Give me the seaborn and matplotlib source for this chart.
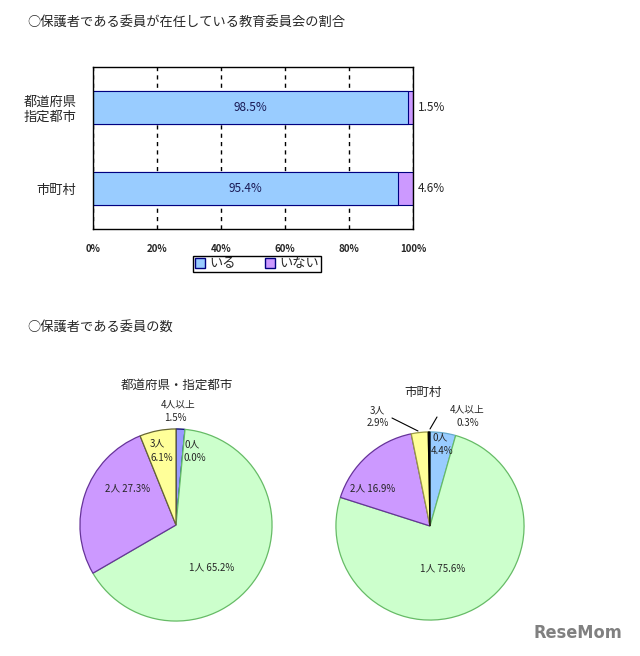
import matplotlib
matplotlib.use("Agg")
import matplotlib.pyplot as plt
import matplotlib.patches as mpatches
from matplotlib.lines import Line2D
import seaborn as sns
import pandas as pd

# bar chart: share of boards with a guardian member
regions = ["都道府県\n指定都市", "市町村"]
present = [98.5, 95.4]
absent = [1.5, 4.6]
legend_labels = ["いる", "いない"]

# pie charts: number of guardian members
member_labels = ["0人", "1人", "2人", "3人", "4人以上"]
pref_share = [0.0, 65.2, 27.3, 6.1, 1.5]
city_share = [4.4, 75.6, 16.9, 2.9, 0.3]

BLUE = "#99CCFF"
PURPLE = "#CC99FF"
GREEN = "#CCFFCC"
YELLOW = "#FFFF99"
NAVY = "#000080"

sns.set_style("white")
plt.rcParams["font.family"] = ["Noto Sans CJK JP", "DejaVu Sans"]

W, H = 640, 656
fig = plt.figure(figsize=(W / 100, H / 100), dpi=100)


def fx(px):
    return px / W


def fy(py):
    return 1 - py / H


# ---- titles
fig.text(fx(27), fy(22), "○保護者である委員が在任している教育委員会の割合",
         ha="left", va="center", fontsize=9.5)
fig.text(fx(27), fy(327), "○保護者である委員の数",
         ha="left", va="center", fontsize=9.5)

# ---- stacked bar
df = pd.DataFrame({"region": regions, "present": present, "absent": absent})
df["total"] = df["present"] + df["absent"]

ax = fig.add_axes([fx(93), fy(229), 320 / W, 162 / H])
sns.barplot(data=df, y="region", x="total", color=PURPLE, saturation=1,
            edgecolor=NAVY, linewidth=0.8, width=0.4, ax=ax)
sns.barplot(data=df, y="region", x="present", color=BLUE, saturation=1,
            edgecolor=NAVY, linewidth=0.8, width=0.4, ax=ax)
ax.set_xlim(0, 100)
ax.set_ylim(1.5, -0.5)
ax.set_xlabel("")
ax.set_ylabel("")
ax.set_xticks(range(0, 101, 20))
ax.set_xticklabels([f"{v}%" for v in range(0, 101, 20)], fontsize=7, weight="bold")
ax.tick_params(axis="x", length=0, pad=11)
ax.tick_params(axis="y", length=0, pad=12, labelsize=9.5)
ax.set_yticks([0.5], minor=True)
ax.tick_params(axis="y", which="minor", length=4, direction="in", color="black")
ax.xaxis.grid(True, color="black", linestyle=(0, (3, 3)), linewidth=1)
ax.set_axisbelow(True)
for s in ax.spines.values():
    s.set_color("black")
    s.set_linewidth(1)

for i, (p, a) in enumerate(zip(present, absent)):
    ax.text(p / 2, i, f"{p}%", ha="center", va="center", fontsize=8.5, color="#1a1a55")
    ax.text(p + a + 1.5, i, f"{a}%", ha="left", va="center", fontsize=8.5)

handles = [mpatches.Patch(facecolor=BLUE, edgecolor=NAVY, label=legend_labels[0]),
           mpatches.Patch(facecolor=PURPLE, edgecolor=NAVY, label=legend_labels[1])]
fig.legend(handles=handles, loc="center", bbox_to_anchor=(fx(257), fy(264)), ncol=2,
           frameon=True, fancybox=False, edgecolor="black", framealpha=1,
           handlelength=0.8, handleheight=0.8, handletextpad=0.3,
           columnspacing=2.2, borderpad=0.15, fontsize=9.5)


# ---- pies
def draw_pie(cx, cy, r, values, order, faces, edges):
    pax = fig.add_axes([fx(cx - r), fy(cy + r), 2 * r / W, 2 * r / H])
    vals = [values[k] for k in order]
    wedges, _ = pax.pie(vals, colors=[faces[k] for k in order], startangle=90,
                        counterclock=False, radius=1,
                        wedgeprops=dict(linewidth=0.9))
    for w, k in zip(wedges, order):
        w.set_edgecolor(edges[k])
    pax.set_xlim(-1.01, 1.01)
    pax.set_ylim(-1.01, 1.01)
    pax.set_aspect("equal")
    pax.axis("off")
    return pax


pref_faces = [BLUE, GREEN, PURPLE, YELLOW, "#9999FF"]
pref_edges = ["#339999", "#66BB66", "#663399", "#666633", "#000066"]
city_faces = [BLUE, GREEN, PURPLE, YELLOW, "#000033"]
city_edges = ["#66AACC", "#66BB66", "#663399", "#999944", "#000000"]

draw_pie(176, 525, 97, pref_share, [4, 0, 1, 2, 3], pref_faces, pref_edges)
draw_pie(430, 526, 95, city_share, [0, 1, 2, 3, 4], city_faces, city_edges)


def label(x, y, s, size=7):
    fig.text(fx(x), fy(y), s, ha="center", va="center", fontsize=size)


# prefecture pie labels
label(177, 385, "都道府県・指定都市", 9)
label(178, 404, member_labels[4])
label(175, 418, f"{pref_share[4]}%")
label(192, 444, member_labels[0])
label(195, 458, f"{pref_share[0]}%")
label(157, 443, member_labels[3])
label(162, 458, f"{pref_share[3]}%")
label(128, 488, f"{member_labels[2]} {pref_share[2]}%")
label(212, 567, f"{member_labels[1]} {pref_share[1]}%")

# municipal pie labels
label(423, 392, "市町村", 9)
label(377, 410, member_labels[3])
label(378, 423, f"{city_share[3]}%")
label(467, 409, member_labels[4])
label(468, 423, f"{city_share[4]}%")
label(440, 437, member_labels[0])
label(442, 451, f"{city_share[0]}%")
label(373, 488, f"{member_labels[2]} {city_share[2]}%")
label(443, 568, f"{member_labels[1]} {city_share[1]}%")
fig.add_artist(Line2D([fx(392), fx(418)], [fy(418), fy(431)], color="black", lw=0.8))
fig.add_artist(Line2D([fx(437), fx(430)], [fy(417), fy(429)], color="black", lw=0.8))

fig.text(fx(578), fy(633), "ReseMom", ha="center", va="center",
         fontsize=13, weight="bold", color="#808080", family="DejaVu Sans",
         fontstretch="condensed")

fig.savefig("out.png", dpi=100)
